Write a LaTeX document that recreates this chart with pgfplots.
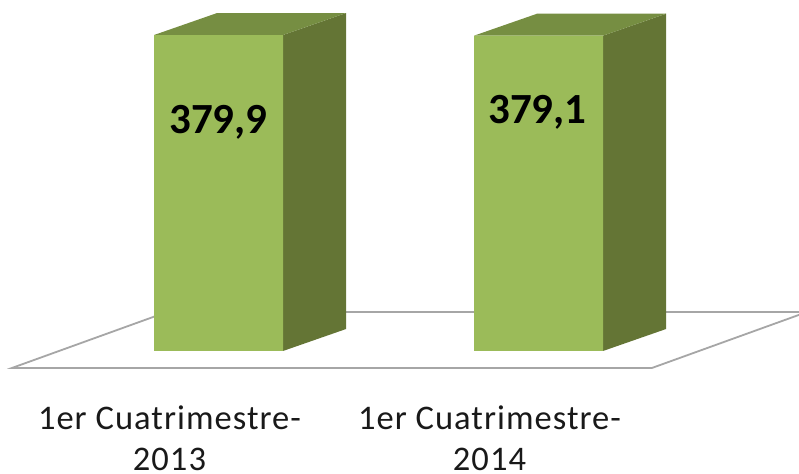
\documentclass[border=0pt]{standalone}
\usepackage{pgfplots}
\pgfplotsset{compat=1.18}
\usepackage{fontspec}
\setmainfont{Carlito}
\definecolor{front}{HTML}{9BBB59}
\definecolor{side}{HTML}{647535}
\definecolor{topf}{HTML}{768E42}
\definecolor{floorl}{HTML}{A6A6A6}
\begin{document}
\begin{tikzpicture}
\begin{axis}[
  at={(0,0)},anchor=south west,
  scale only axis,
  width=799pt,height=385pt,
  xmin=0,xmax=799,ymin=-40.9,ymax=422,
  axis x line=bottom,
  axis y line=none,
  axis x line*=bottom,
  x axis line style={draw=none},
  major tick length=0pt,
  xtick={218.5,538.5},
  xticklabels={{1er Cuatrimestre-\\2013},{1er Cuatrimestre-\\2014}},
  xticklabel style={align=center,font=\addfontfeatures{LetterSpace=3}\fontsize{34.5}{41}\selectfont,text=black!90,yshift=-17pt,xshift=-49pt},
  ytick=\empty,
]
\addplot[fill=white,draw=floorl,line width=1.8pt] coordinates {(12,-20.4) (652,-20.4) (807,46.9) (167,46.9)} --cycle;
% bar 1 depth
\addplot[fill=side,draw=none] coordinates {(283,0) (346,26.4) (346,406.3) (283,379.9)} --cycle;
\addplot[fill=topf,draw=none] coordinates {(154,379.9) (217,406.3) (346,406.3) (283,379.9)} --cycle;
% bar 2 depth
\addplot[fill=side,draw=none] coordinates {(603,0) (666,26.4) (666,405.5) (603,379.1)} --cycle;
\addplot[fill=topf,draw=none] coordinates {(474,379.1) (537,405.5) (666,405.5) (603,379.1)} --cycle;
% front faces
\addplot[ybar,bar width=129pt,bar shift=0pt,fill=front,draw=none] coordinates {(218.5,379.9) (538.5,379.1)};
\node[font=\bfseries\fontsize{43}{43}\selectfont] at (axis cs:218.5,274.6) {379,9};
\node[font=\bfseries\fontsize{43}{43}\selectfont] at (axis cs:537.5,287) {379,1};
\end{axis}
\path[use as bounding box] (0,-88pt) rectangle (799pt,385pt);
\end{tikzpicture}
\end{document}
